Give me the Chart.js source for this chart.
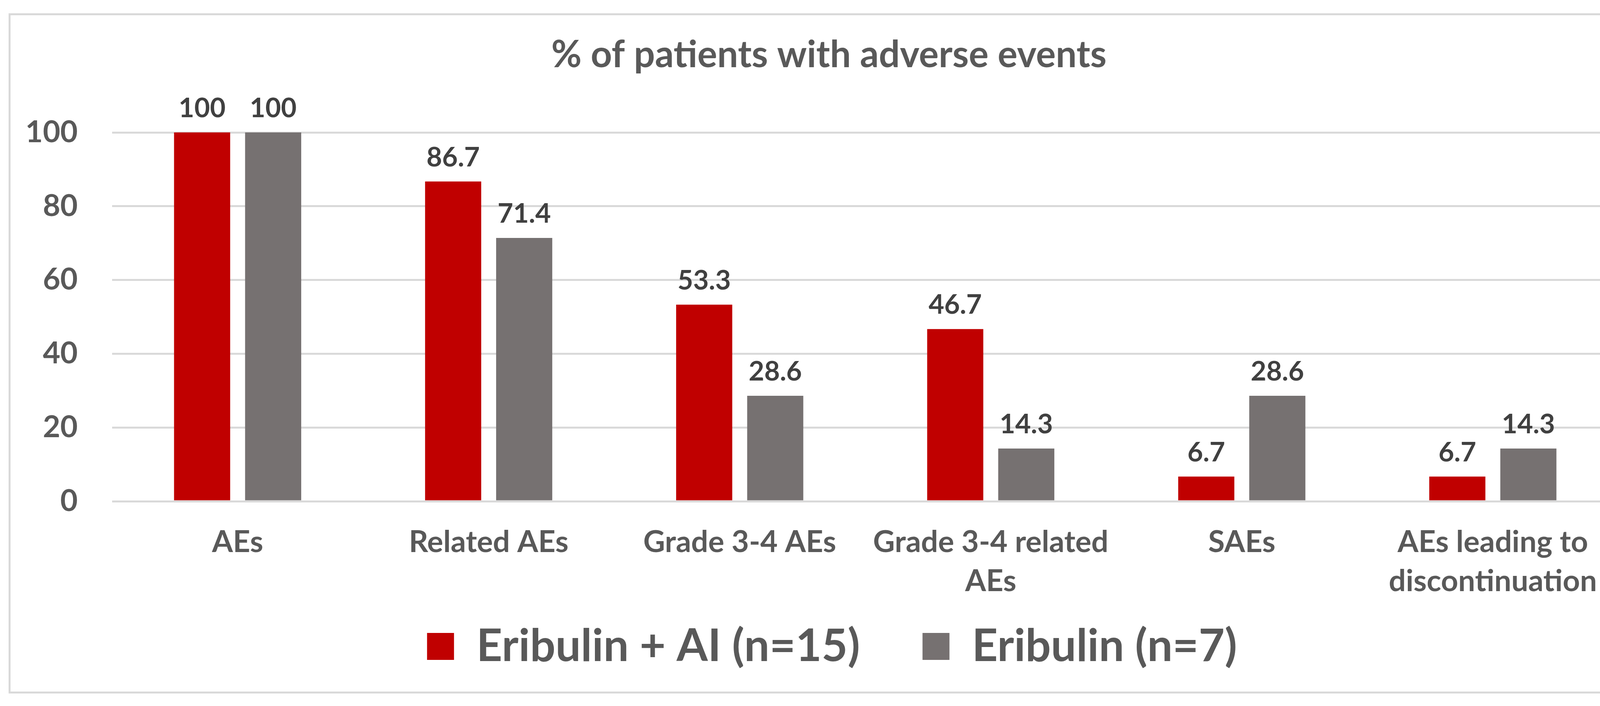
<!DOCTYPE html>
<html>
<head>
<meta charset="utf-8">
<script src="https://cdn.jsdelivr.net/npm/chart.js@4.4.1/dist/chart.umd.min.js"></script>
<style>
    html, body { margin: 0; padding: 0; background: #ffffff; overflow: hidden; }
    #frame {
        position: absolute; left: 22px; top: 34px; width: 4183px; height: 1741px;
        border: 5px solid #d9d9d9; box-sizing: border-box;
    }
    #wrap { position: absolute; left: 0; top: 0; width: 4246px; height: 1807px; }
</style>
</head>
<body>
<div id="frame"></div>
<div id="wrap"><canvas id="ae_chart"></canvas></div>
<script>
// Categories (x axis)
const categories = [
    "AEs",
    "Related AEs",
    "Grade 3-4 AEs",
    ["Grade 3-4 related", "AEs"],
    "SAEs",
    ["AEs leading to", "discontinuation"]
]
// Series values (% of patients)
const eribulinAI = [100, 86.7, 53.3, 46.7, 6.7, 6.7]
const eribulinOnly = [100, 71.4, 28.6, 14.3, 28.6, 14.3]
// Series names
const seriesNames = ["Eribulin + AI (n=15)", "Eribulin (n=7)"]
// Y ticks
const yTicks = [0, 20, 40, 60, 80, 100]

const FONT = "Lato, 'Open Sans', sans-serif"

// Value labels above the bars
const barValues = {
    id: "barValues",
    afterDatasetsDraw(chart) {
        const ctx = chart.ctx
        ctx.save()
        ctx.font = "bold 69px " + FONT
        ctx.fillStyle = "#404040"
        ctx.textAlign = "center"
        ctx.textBaseline = "alphabetic"
        chart.data.datasets.forEach((ds, i) => {
            chart.getDatasetMeta(i).data.forEach((bar, j) => {
                ctx.fillText(String(ds.data[j]), bar.x, bar.y - 39)
            })
        })
        ctx.restore()
    }
}

// Centre title and legend on the frame, and pull the legend up under the labels
const boxShift = {
    id: "boxShift",
    afterLayout(chart) {
        chart.titleBlock.left = 101
        chart.legend.left = 117
        chart.legend.top = 1437
    }
}

const ctx = document.getElementById("ae_chart").getContext("2d")
new Chart(ctx, {
    type: "bar",
    data: {
        labels: categories,
        datasets: [
            { label: seriesNames[0], data: eribulinAI, backgroundColor: "#C00000" },
            { label: seriesNames[1], data: eribulinOnly, backgroundColor: "#767171" }
        ]
    },
    plugins: [barValues, boxShift],
    options: {
        responsive: true,
        maintainAspectRatio: false,
        devicePixelRatio: 1,
        animation: false,
        categoryPercentage: 0.566,
        barPercentage: 0.79,
        layout: { padding: { left: 0, right: 103, top: 0, bottom: 74 } },
        scales: {
            x: {
                grid: { display: false, drawTicks: false },
                border: { display: false },
                ticks: {
                    color: "#595959",
                    padding: 55,
                    maxRotation: 0,
                    autoSkip: false,
                    font: { family: FONT, size: 77, weight: "bold", lineHeight: 1.3 }
                },
                afterFit: s => { s.height = 250 }
            },
            y: {
                min: 0,
                max: 100,
                afterBuildTicks: s => { s.ticks = yTicks.map(v => ({ value: v })) },
                grid: { color: "#d9d9d9", lineWidth: 5, drawTicks: false },
                border: { display: false },
                ticks: {
                    color: "#595959",
                    padding: 88,
                    font: { family: FONT, size: 77, weight: "bold" }
                },
                afterFit: s => { s.width = 287 }
            }
        },
        plugins: {
            title: {
                display: true,
                text: "% of patients with adverse events",
                color: "#595959",
                font: { family: FONT, size: 95, weight: "bold", lineHeight: 1.2 },
                padding: { top: 84, bottom: 141 }
            },
            legend: {
                position: "bottom",
                maxHeight: 200,
                labels: {
                    color: "#595959",
                    boxWidth: 69,
                    boxHeight: 69,
                    padding: 160,
                    font: { family: FONT, size: 115, weight: "bold" }
                }
            },
            tooltip: { enabled: false }
        }
    }
})
</script>
</body>
</html>
